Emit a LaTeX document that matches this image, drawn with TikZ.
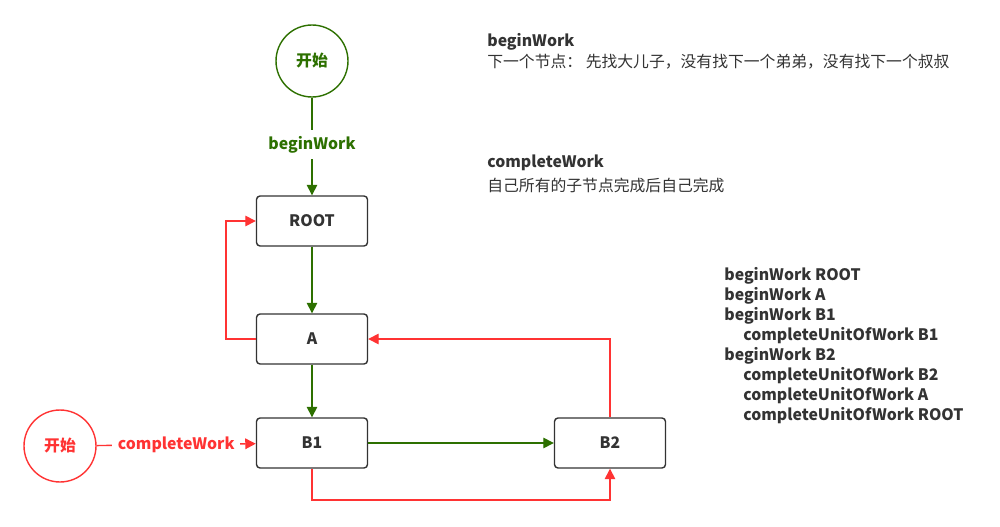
\documentclass[tikz,border=0pt]{standalone}
\usepackage{fontspec}
\setmainfont{Noto Sans CJK SC}
\usetikzlibrary{arrows.meta}
\definecolor{gr}{HTML}{2D7000}
\definecolor{rd}{HTML}{FF3333}
\definecolor{tx}{HTML}{333333}
\begin{document}
\begin{tikzpicture}[x=0.02cm,y=-0.02cm,font=\fontsize{9}{11}\selectfont\bfseries,
 box/.style={draw=tx,thick,rounded corners=2pt,minimum width=2.22cm,minimum height=1cm,text=tx},
 ga/.style={draw=gr,thick,-{Triangle[length=6pt,width=6pt]}},
 ra/.style={draw=rd,thick,-{Triangle[length=6pt,width=6pt]}},
 txt/.style={text=tx,anchor=west,inner sep=0pt,font=\fontsize{9}{11}\selectfont}]
\useasboundingbox (0,0) rectangle (1000,527);
\node[circle,draw=gr,thick,minimum size=1.44cm,text=gr] (s1) at (312,61) {开始};
\node[circle,draw=rd,thick,minimum size=1.44cm,text=rd] (s2) at (60,446) {开始};
\node[box] (root) at (312,221) {ROOT};
\node[box] (a) at (312,339) {A};
\node[box] (b1) at (312,443) {B1};
\node[box] (b2) at (610,443) {B2};
\draw[ga] (s1) -- node[fill=white,text=gr,pos=0.48]{beginWork} (root);
\draw[ga] (root) -- (a);
\draw[ga] (a) -- (b1);
\draw[ga] (b1) -- (b2);
\draw[ra] (s2) -- node[fill=white,text=rd]{completeWork} (b1);
\draw[ra] (a.west) -- (226,339) -- (226,221) -- (root.west);
\draw[ra] (b2.north) -- (610,339) -- (a.east);
\draw[ra] (b1.south) -- (312,500) -- (610,500) -- (b2.south);
\node[txt,font=\fontsize{9}{11}\selectfont\bfseries] (t1) at (487,42) {beginWork};
\node[txt] (t2) at (487,62) {下一个节点： 先找大儿子，没有找下一个弟弟，没有找下一个叔叔};
\node[txt,font=\fontsize{9}{11}\selectfont\bfseries] (t3) at (487,163) {completeWork};
\node[txt] (t4) at (487,185) {自己所有的子节点完成后自己完成};
\foreach \t/\x/\y [count=\i] in {beginWork ROOT/724/276,beginWork A/724/296,beginWork B1/724/316,completeUnitOfWork B1/743/336,beginWork B2/724/356,completeUnitOfWork B2/743/376,completeUnitOfWork A/743/396,completeUnitOfWork ROOT/743/416}
  \node[txt,font=\fontsize{9}{11}\selectfont\bfseries] (l\i) at (\x,\y) {\t};
\end{tikzpicture}
\end{document}
